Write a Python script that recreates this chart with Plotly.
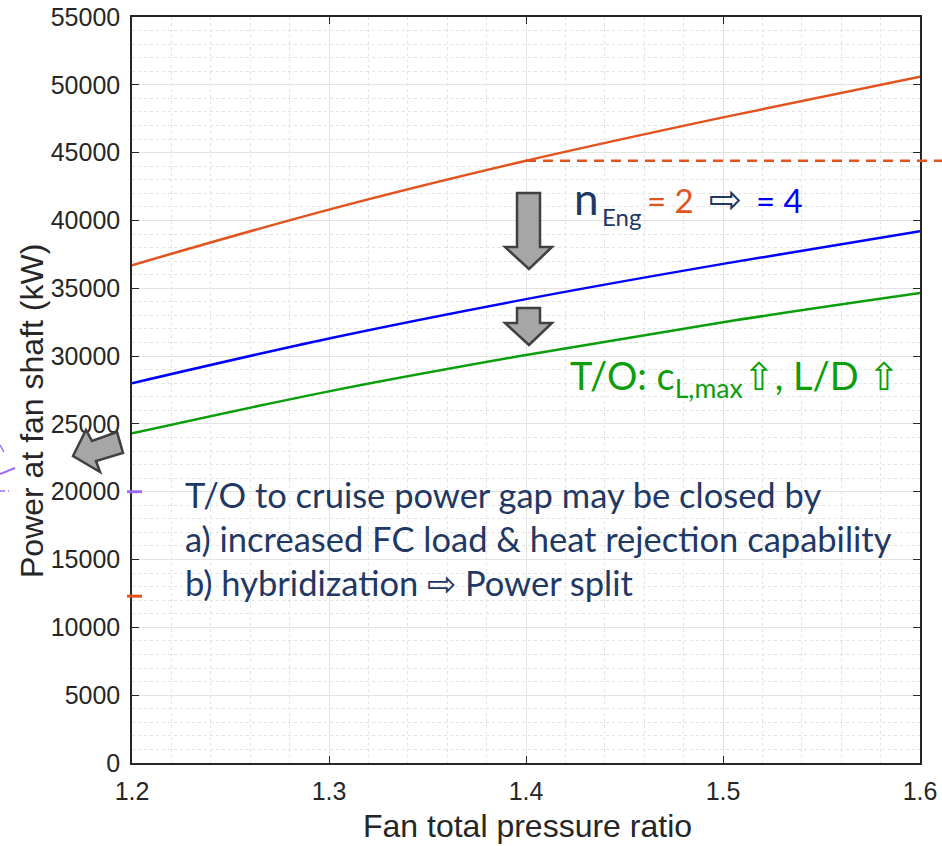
import plotly.graph_objects as go

# fan total pressure ratio vs. power at fan shaft (kW)
fpr = [1.2, 1.3, 1.4, 1.5, 1.6]
power_eng2 = [36700, 40800, 44400, 47600, 50600]
power_eng4 = [28000, 31300, 34200, 36800, 39200]
power_to_improved = [24300, 27400, 30080, 32500, 34650]

cruise_level = 44400      # dashed reference from 1.4 onwards
ref_ticks = [20000, 12300]  # short marks crossing the left axis

x_range = [1.2, 1.6]
y_range = [0, 55000]
y_ticks = list(range(0, 55001, 5000))
x_ticks = [1.2, 1.3, 1.4, 1.5, 1.6]

W, H = 942, 846
L, R, T, B = 132, 22, 17, 83

ORANGE = "#E2531E"
BLUE = "#0000FF"
GREEN = "#0A9E0A"
NAVY = "#1F3864"
AXIS = "#262626"
TEXT_FONT = "Lato"
AXIS_FONT = "Liberation Sans, Arial"


def px(xp):
    return (xp - L) / (W - L - R)


def py(yp):
    return (H - B - yp) / (H - B - T)


def xd(v):
    return (v - x_range[0]) / (x_range[1] - x_range[0])


def yd(v):
    return (v - y_range[0]) / (y_range[1] - y_range[0])


def poly(points):
    return "M " + " L ".join(f"{px(a):.5f},{py(b):.5f}" for a, b in points) + " Z"


fig = go.Figure()
for ys, color in [(power_eng2, ORANGE), (power_eng4, BLUE), (power_to_improved, GREEN)]:
    fig.add_scatter(x=fpr, y=ys, mode="lines", line=dict(color=color, width=2.5, shape="spline"),
                    showlegend=False, hoverinfo="skip")

shapes = []
# dashed cruise line, runs past the right edge of the axes
shapes.append(dict(type="line", xref="paper", yref="paper", x0=xd(1.4), x1=1.05,
                   y0=yd(cruise_level), y1=yd(cruise_level),
                   line=dict(color=ORANGE, width=2.5, dash="10px,7px"), layer="above"))
# little marks on the left axis
for v, c in zip(ref_ticks, ["#9C6CFF", ORANGE]):
    shapes.append(dict(type="line", xref="paper", yref="paper", x0=px(127), x1=px(142),
                       y0=yd(v), y1=yd(v), line=dict(color=c, width=3)))
# purple fragments at the far left
shapes.append(dict(type="line", xref="paper", yref="paper", x0=px(0), x1=px(15),
                   y0=py(474), y1=py(468), line=dict(color="#9C6CFF", width=2)))
shapes.append(dict(type="line", xref="paper", yref="paper", x0=px(0), x1=px(4),
                   y0=py(445), y1=py(452), line=dict(color="#9C6CFF", width=1.5)))
shapes.append(dict(type="line", xref="paper", yref="paper", x0=px(0), x1=px(10),
                   y0=py(491), y1=py(491), line=dict(color="#9C6CFF", width=1.5, dash="5px,3px,1px,3px")))

arrow_style = dict(type="path", xref="paper", yref="paper", fillcolor="#A6A6A6",
                   line=dict(color="#404040", width=2.5), layer="above")
# big down arrow
shapes.append(dict(path=poly([(517, 193), (540, 193), (540, 247), (552, 247), (529, 269),
                              (505, 247), (517, 247)]), **arrow_style))
# small down arrow
shapes.append(dict(path=poly([(517, 308), (540, 308), (540, 323), (552, 323), (529, 345),
                              (505, 323), (517, 323)]), **arrow_style))
# left arrow
shapes.append(dict(path=poly([(73, 456), (86, 430), (92, 441), (117, 432), (123, 453),
                              (96, 461), (100, 472)]), **arrow_style))


def label(x, y, text, size, color, family=TEXT_FONT, xanchor="left", angle=0):
    return dict(x=px(x), y=py(y), xref="paper", yref="paper", xanchor=xanchor, yanchor="middle",
                text=text, textangle=angle, showarrow=False,
                font=dict(family=family, size=size, color=color))


annotations = [
    # n_Eng = 2 => = 4
    label(572, 198, "n", 44, NAVY),
    label(600, 217, "Eng", 24, NAVY),
    label(645, 200, "= 2", 33, ORANGE),
    label(707, 199, "⇨", 40, NAVY, family="DejaVu Sans"),
    label(754, 200, "= 4", 33, BLUE),
    # T/O line
    label(568, 378, "T/O: c<sub>L,max</sub>⇧, L/D ⇧", 38, GREEN),
    # text block
    label(183, 494, "T/O to cruise power gap may be closed by", 34.5, NAVY),
    label(183, 538, "a) increased FC load &amp; heat rejection capability", 34.5, NAVY),
    label(183, 582, "b) hybridization ⇨ Power split", 34.5, NAVY),
    # axis titles
    label(32, 411, "Power at fan shaft (kW)", 32, AXIS, family=AXIS_FONT, xanchor="center", angle=-90),
    label(527, 826, "Fan total pressure ratio", 32, AXIS, family=AXIS_FONT, xanchor="center"),
]

axis_common = dict(
    showline=True, linecolor=AXIS, linewidth=1.5, mirror="ticks",
    ticks="inside", ticklen=7, tickcolor=AXIS, tickwidth=1,
    showgrid=True, gridcolor="#E3E3E3", gridwidth=1, zeroline=False,
    tickfont=dict(family=AXIS_FONT, size=25, color=AXIS),
)

fig.update_layout(
    width=W, height=H, margin=dict(l=L, r=R, t=T, b=B, autoexpand=False),
    paper_bgcolor="white", plot_bgcolor="white",
    xaxis=dict(range=x_range, tickvals=x_ticks, tickformat=".1f",
               minor=dict(dtick=0.02, tick0=1.2, showgrid=True, gridcolor="#E3E3E3", griddash="dot", ticks=""),
               ticklabelstandoff=5, **axis_common),
    yaxis=dict(range=y_range, tickvals=y_ticks, tickformat="d",
               minor=dict(dtick=1000, tick0=0, showgrid=True, gridcolor="#E3E3E3", griddash="dot", ticks=""),
               ticklabelstandoff=5, **axis_common),
    shapes=shapes, annotations=annotations,
)

fig.write_html("out.html", config={"displayModeBar": False},
               post_script="document.body.style.margin='0px';")
